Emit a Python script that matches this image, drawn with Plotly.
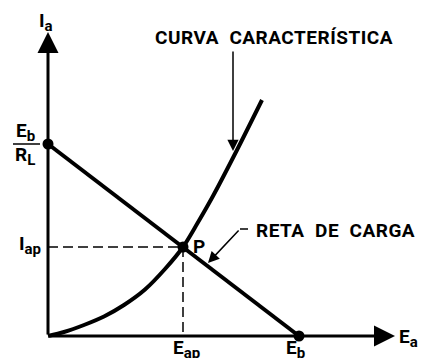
import plotly.graph_objects as go

# Characteristic curve of the tube (Ea, Ia)
curve_ea = [0.0, 0.64, 1.44, 2.24, 3.04, 3.88, 4.68, 5.4, 5.96, 6.6, 7.56, 8.56]
curve_ia = [0.0, 0.16, 0.44, 0.78, 1.24, 1.86, 2.68, 3.56, 4.48, 5.6, 7.44, 9.44]

# Load line end points: (0, Eb/RL) and (Eb, 0)
load_ea = [0.0, 10.04]
load_ia = [7.68, 0.0]

# Operating point P
p_ea = 5.4
p_ia = 3.56

# Axis extents (arrow tips)
xaxis_tip = 13.88
yaxis_tip = 12.16

FONT = 'Roboto'
# the page body has an 8px margin, so the figure starts at (8, 8)
OFF = 8

fig = go.Figure()

# dashed projections of P
fig.add_trace(go.Scatter(
    x=[0, p_ea, p_ea], y=[p_ia, p_ia, 0],
    mode='lines', line=dict(color='black', width=1.5, dash='10px,5px'),
    hoverinfo='skip'
))

fig.add_trace(go.Scatter(
    x=curve_ea, y=curve_ia, mode='lines',
    line=dict(color='black', width=4, shape='spline', smoothing=0.8),
    hoverinfo='skip'
))

fig.add_trace(go.Scatter(
    x=load_ea, y=load_ia, mode='lines',
    line=dict(color='black', width=4),
    hoverinfo='skip'
))

fig.add_trace(go.Scatter(
    x=[load_ea[0], p_ea, load_ea[1]], y=[load_ia[0], p_ia, load_ia[1]],
    mode='markers', marker=dict(color='black', size=11),
    hoverinfo='skip'
))

# leader of "RETA DE CARGA" (horizontal stub)
fig.add_trace(go.Scatter(
    x=[7.68, 8.0], y=[4.28, 4.28], mode='lines',
    line=dict(color='black', width=1.5), hoverinfo='skip'
))

annotations = []

# axes with arrows
annotations.append(dict(x=xaxis_tip, y=0, ax=0, ay=0, xref='x', yref='y',
                        axref='x', ayref='y', showarrow=True, arrowhead=2,
                        arrowsize=1.4, arrowwidth=3, arrowcolor='black', text=''))
annotations.append(dict(x=0, y=yaxis_tip, ax=0, ay=0, xref='x', yref='y',
                        axref='x', ayref='y', showarrow=True, arrowhead=2,
                        arrowsize=1.4, arrowwidth=3, arrowcolor='black', text=''))

# pointer arrows
annotations.append(dict(x=7.4, y=7.4, ax=7.4, ay=11.44, xref='x', yref='y',
                        axref='x', ayref='y', showarrow=True, arrowhead=2,
                        arrowsize=1.5, arrowwidth=1.5, arrowcolor='black', text=''))
annotations.append(dict(x=6.4, y=2.92, ax=7.68, ay=4.28, xref='x', yref='y',
                        axref='x', ayref='y', showarrow=True, arrowhead=2,
                        arrowsize=1.5, arrowwidth=1.5, arrowcolor='black', text=''))


def sub(main, s):
    return f'{main}<sub><span style="font-size:15px">{s}</span></sub>'


def spaced(text, px):
    return f'<span style="letter-spacing:{px}px">{text}</span>'


def label(text, px, py, size=19, xanchor='center'):
    annotations.append(dict(
        text=text, x=(px - 48) / 25, y=(336 - py) / 25, xref='x', yref='y',
        showarrow=False, xanchor=xanchor, yanchor='middle',
        font=dict(family=FONT, size=size, color='black', weight='bold')
    ))


label(sub('I', 'a'), 46, 22)
label(sub('E', 'b'), 25, 132)
label(sub('R', 'L'), 25, 156)
label(sub('I', 'ap'), 30, 245)
label('P', 199, 246)
label(sub('E', 'ap'), 186, 349)
label(sub('E', 'b'), 295, 349)
label(sub('E', 'a'), 408, 338)
label(spaced('CURVA&nbsp;&nbsp;CARACTERÍSTICA', 0.5), 153, 37, xanchor='left')
label(spaced('RETA&nbsp;&nbsp;DE&nbsp;&nbsp;CARGA', 0.5), 254, 230, xanchor='left')

fig.update_layout(
    width=427, height=358,
    margin=dict(l=0, r=0, t=0, b=0),
    paper_bgcolor='white', plot_bgcolor='white',
    showlegend=False,
    xaxis=dict(range=[(OFF - 48) / 25, (427 + OFF - 48) / 25],
               visible=False, fixedrange=True),
    yaxis=dict(range=[(336 - 358 - OFF) / 25, (336 - OFF) / 25],
               visible=False, fixedrange=True),
    annotations=annotations,
    shapes=[dict(type='line', xref='x', yref='y',
                 x0=(13 - 48) / 25, x1=(40 - 48) / 25,
                 y0=(336 - 144) / 25, y1=(336 - 144) / 25,
                 line=dict(color='black', width=1.5))]
)

fig.write_html('out.html')
